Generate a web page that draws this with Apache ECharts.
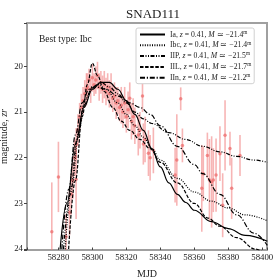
<!DOCTYPE html>
<html><head><meta charset="utf-8">
<script src="https://cdn.jsdelivr.net/npm/echarts@6/dist/echarts.min.js"></script>
<style>html,body{margin:0;padding:0;background:#fff}#c{width:280px;height:280px}</style>
</head><body><div id="c"></div>
<script>
// Observations: MJD, magnitude, error
const obsMjd = [58276.1,58280.0,58284.5,58290.4,58286.5,58287.5,58288.5,58289.5,58290.5,58291.5,58292.5,58293.5,58294.5,58295.5,58296.5,
58297,58298,58299,58300,58301,58302,58303,58304,58305,58306,58307,58308,58309,58310,58311,58312,58313,58314,58315,58316,58317,58318,58319,58320,58321,58322,58323,58324,58325,58327,58328,58329.5,58330,58331,58333,58334,
58335.9,58349.7,58348.7,58353.0,58352.0,58364.4,58365.3,58367.7,58368.9,58370.2,58371.2,58372.8,58375.1,58376.7,58378.1,58381.0,58382.0,58386.9];
const obsMag = [23.62,22.42,23.73,22.47,23.2,22.8,22.5,22.0,21.7,21.4,21.1,20.9,20.75,20.6,20.5,
20.45,20.3,20.5,20.25,20.4,20.3,20.2,20.45,20.35,20.5,20.4,20.55,20.45,20.6,20.5,20.7,20.65,20.8,20.75,20.9,20.85,21.0,20.8,21.1,20.95,20.7,21.2,21.1,21.3,21.5,21.4,20.65,21.7,21.6,21.9,22.0,
21.84,22.05,22.38,21.73,20.71,22.67,22.35,21.95,22.49,22.53,22.49,22.38,21.91,23.04,21.51,21.8,22.67,21.95];
const obsErr = [1.08,0.77,0.5,0.87,0.5,0.45,0.4,0.4,0.35,0.35,0.3,0.3,0.3,0.3,0.35,
0.3,0.25,0.3,0.3,0.25,0.3,0.3,0.3,0.25,0.3,0.3,0.3,0.3,0.3,0.35,0.3,0.3,0.35,0.3,0.3,0.4,0.35,0.35,0.35,0.4,0.35,0.4,0.4,0.4,0.45,0.4,0.35,0.45,0.5,0.5,0.5,
0.5,1.0,0.6,0.37,0.25,0.95,0.6,0.5,0.9,1.0,0.7,0.8,0.6,0.7,0.77,0.37,0.67,0.45];

// Model curves [MJD, mag]
const curveIa = [[58281,24.0],[58285,23.0],[58290,21.7],[58295,20.9],[58300,20.5],[58305,20.35],[58310,20.35],[58315,20.5],[58320,20.75],[58325,21.05],[58330,21.4],[58335,21.8],[58340,22.2],[58345,22.55],[58350,22.8],[58355,22.98],[58360,23.15],[58370,23.4],[58380,23.55],[58390,23.7],[58403,23.83]];
const curveIbc = [[58284,24.0],[58288,22.6],[58292,21.4],[58296,20.7],[58300,20.45],[58304,20.4],[58308,20.5],[58315,20.8],[58320,21.05],[58325,21.3],[58330,21.55],[58335,21.8],[58340,22.05],[58350,22.45],[58360,22.75],[58370,22.95],[58380,23.1],[58390,23.25],[58403,23.38]];
const curveIIP = [[58283,24.0],[58287,22.8],[58291,21.6],[58295,20.85],[58300,20.45],[58305,20.35],[58310,20.45],[58315,20.6],[58320,20.8],[58325,21.0],[58330,21.15],[58335,21.25],[58345,21.45],[58355,21.6],[58365,21.75],[58375,21.87],[58385,21.97],[58395,22.05],[58403,22.1]];
const curveIIL = [[58286,24.0],[58290,22.5],[58294,21.1],[58297,20.4],[58300,19.93],[58303,20.2],[58307,20.55],[58312,20.9],[58317,21.2],[58322,21.4],[58328,21.6],[58334,21.8],[58340,22.1],[58350,22.55],[58360,23.0],[58368,23.32],[58375,23.5],[58385,23.75],[58396,24.0],[58403,24.15]];
const curveIIn = [[58282,24.0],[58286,22.7],[58290,21.5],[58294,20.8],[58298,20.5],[58302,20.45],[58308,20.5],[58315,20.65],[58322,20.8],[58328,20.9],[58334,21.05],[58340,21.3],[58350,21.75],[58360,22.15],[58365,22.35],[58375,22.8],[58385,23.25],[58395,23.65],[58403,23.92]];

const legendNames = ['Ia','Ibc','IIP','IIL','IIn'];
const legendM = ['21.4','21.4','21.5','21.7','21.2'];
const redshift = '0.41';

const FONT = 'Liberation Serif';
const obs = obsMjd.map((x,i)=>[x, obsMag[i], obsErr[i]]);

const chart = echarts.init(document.getElementById('c'));
const lineSeries = (name, data, type) => ({
  name, type:'line', data, showSymbol:false, symbol:'none', smooth:0.4, smoothMonotone:'x',
  lineStyle:{color:'#000', width:1.2, type}, itemStyle:{color:'#000'}, z:5, animation:false, clip:true
});
chart.setOption({
  animation:false,
  title:[
    {text:'SNAD111', left:148, top:3, textAlign:'center', textStyle:{fontFamily:FONT, fontSize:13, fontWeight:'normal', color:'#222'}},
    {text:'Best type: Ibc', left:34, top:29, textStyle:{fontFamily:FONT, fontSize:9.5, fontWeight:'normal', color:'#222'}}
  ],
  grid:{left:27, right:13, top:23, bottom:30, show:true, borderColor:'#a0a0a0', borderWidth:2, backgroundColor:'transparent', outerBoundsMode:'none', containLabel:false},
  legend:{
    orient:'vertical', left:136, top:28, itemWidth:25, itemHeight:9, itemGap:2.3,
    padding:[2,3,2,3], backgroundColor:'#fff', borderColor:'#d0d0d0', borderWidth:1, borderRadius:2,
    data:legendNames,
    itemStyle:{color:'rgba(0,0,0,0)', borderColor:'rgba(0,0,0,0)', borderWidth:0, opacity:0},
    formatter:(n)=>{const i=legendNames.indexOf(n); return n+', {i|z} = '+redshift+', {i|M} \u2243 \u2212'+legendM[i]+'{s|m}';},
    textStyle:{fontFamily:FONT, fontSize:7.7, color:'#222',
      rich:{i:{fontStyle:'italic', fontFamily:FONT, fontSize:7.7}, s:{fontFamily:FONT, fontSize:5.2, verticalAlign:'top', padding:[0,0,4,0]}}}
  },
  xAxis:{type:'value', min:58261.5, max:58402.8, splitNumber:7,
    name:'MJD', nameLocation:'middle', nameGap:19, nameMoveOverlap:false, nameTextStyle:{fontFamily:FONT, fontSize:10, color:'#222'},
    axisLine:{show:false}, splitLine:{show:false},
    axisTick:{inside:true, length:2.5, lineStyle:{color:'#444'}},
    axisLabel:{fontFamily:FONT, fontSize:8.8, color:'#222', margin:3, formatter:(v)=> (Math.abs(v/20-Math.round(v/20))<1e-6)? String(Math.round(v)) : ''}
  },
  yAxis:{type:'value', inverse:true, min:19.05, max:24.02, splitNumber:5,
    name:'magnitude, {i|zr}', nameLocation:'middle', nameGap:18, nameRotate:90, nameMoveOverlap:false,
    nameTextStyle:{fontFamily:FONT, fontSize:10, color:'#222', rich:{i:{fontStyle:'italic', fontFamily:FONT, fontSize:10}}},
    axisLine:{show:false}, splitLine:{show:false},
    axisTick:{inside:false, length:3, lineStyle:{color:'#444'}},
    axisLabel:{fontFamily:FONT, fontSize:8.8, color:'#222', margin:4, formatter:(v)=> (Math.abs(v-Math.round(v))<1e-6)? String(Math.round(v)) : ''}
  },
  series:[
    {type:'custom', name:'err', data:obs, clip:true, z:2, encode:{x:0,y:1},
      renderItem:(params, api)=>{
        const x=api.value(0), m=api.value(1), e=api.value(2);
        const p1=api.coord([x,m-e]), p2=api.coord([x,m+e]);
        return {type:'line', shape:{x1:p1[0],y1:p1[1],x2:p2[0],y2:p2[1]}, style:{stroke:'rgba(240,120,120,0.55)', lineWidth:1.6}};
      }},
    {type:'scatter', name:'obs', data:obs, symbol:'circle', symbolSize:3.5, z:3, itemStyle:{color:'rgba(236,100,100,0.85)'}, clip:true},
    lineSeries('Ia', curveIa, 'solid'),
    lineSeries('Ibc', curveIbc, [1,1.4]),
    lineSeries('IIP', curveIIP, [4,1.5,1,1.5,1,1.5]),
    lineSeries('IIL', curveIIL, [3.5,1.6]),
    lineSeries('IIn', curveIIn, [5,1.8,1.2,1.8])
  ]
});
</script></body></html>
